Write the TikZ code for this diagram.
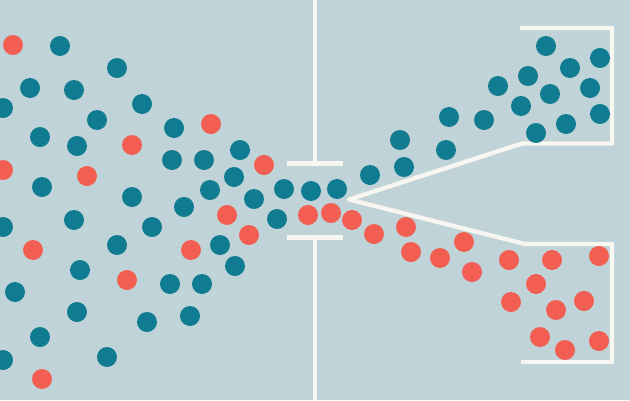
\documentclass[tikz,border=0pt]{standalone}
\usepackage{xcolor}
\usepackage{tikz}
\usetikzlibrary{positioning}

\definecolor{bgblue}{HTML}{BFD3D8}
\definecolor{petrol}{HTML}{107C91}
\definecolor{coral}{HTML}{F25F52}
\definecolor{chalk}{HTML}{F8F6F0}

\begin{document}
\begin{tikzpicture}[
  x=1pt, y=-1pt,
  wall/.style={draw=chalk, line width=4.3pt},
  tdot/.style={circle, fill=petrol, minimum size=20pt, inner sep=0pt},
  rdot/.style={circle, fill=coral, minimum size=20pt, inner sep=0pt}
]
\fill[bgblue] (0,0) rectangle (630,400);
\useasboundingbox (0,0) rectangle (630,400);

% membrane with the gate
\coordinate (gatetop) at (315,163.5);
\coordinate (gatebot) at (315,237.5);
\draw[wall] (315,0) -- (gatetop);
\draw[wall] (315,400) -- (gatebot);
\draw[wall] (287,163.5) -- (343,163.5);
\draw[wall] (287,237.5) -- (343,237.5);

% splitter and the two bins
\coordinate (apex) at (349,199.5);
\draw[wall, line join=round] (520,28) -- (612,28) -- (612,143.5) -- (522,143.5) -- (apex)
  -- (525,244) -- (612,244) -- (612,362) -- (521,362);

% teal particles
\foreach \p [count=\i] in {(60,46),(117,68),(30,88),(74,90),(3,108),(142,104),(97,120),
  (40,137),(77,146),(42,187),(132,197),(3,227),(74,220),(152,227),(117,245),(80,270),
  (15,292),(77,312),(147,322),(40,337),(3,360),(107,357),
  (174,128),(172,160),(204,160),(240,150),(234,177),(210,190),(284,189),(311,191),
  (337,189),(254,199),(184,207),(277,219),(220,245),(235,266),(170,284),(202,284),(190,316),
  (370,175),(404,167),(400,140),(446,150),(449,117),(484,120),(498,86),(521,106),
  (528,76),(546,46),(550,94),(570,68),(600,58),(590,88),(536,133),(566,124),(600,114)}
  \node[tdot] (t\i) at \p {};

% red particles
\foreach \p [count=\i] in {(13,45),(132,145),(3,170),(87,176),(33,250),(127,280),(42,379),
  (211,124),(264,165),(227,215),(249,235),(191,250),(308,215),(331,213),(352,220),
  (374,234),(406,227),(411,252),(440,258),(464,242),(472,272),(509,260),(552,260),
  (599,256),(536,284),(511,302),(556,310),(584,301),(540,337),(565,350),(599,341)}
  \node[rdot] (r\i) at \p {};
\end{tikzpicture}
\end{document}
